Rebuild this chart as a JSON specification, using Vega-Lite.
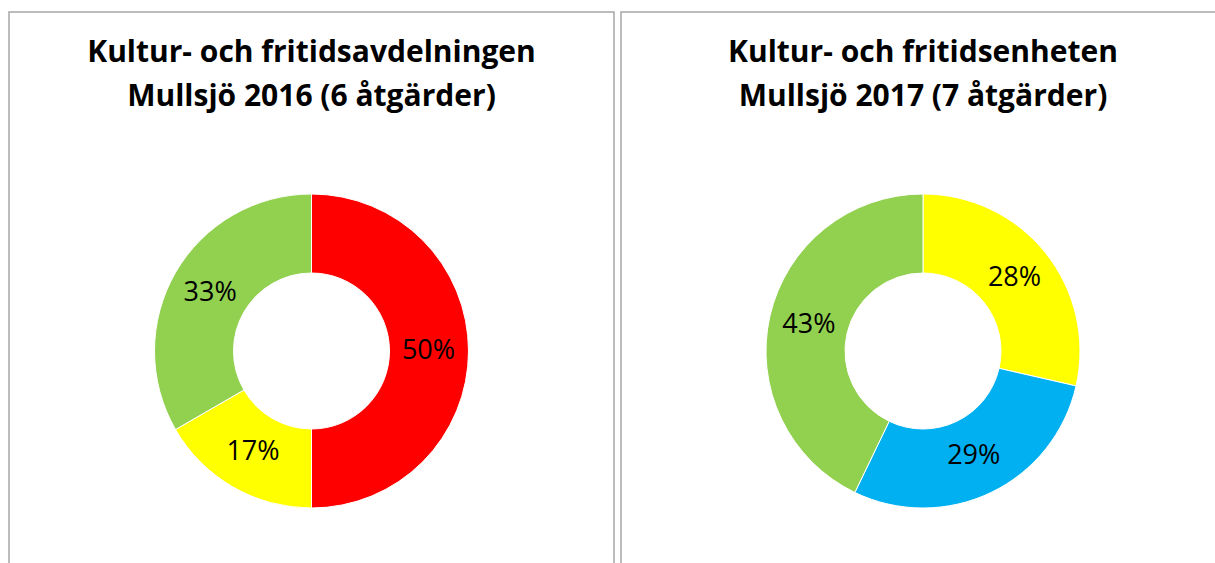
{
  "$schema": "https://vega.github.io/schema/vega-lite/v6.json",
  "padding": {"left": 8, "top": 11, "right": 0, "bottom": 0},
  "background": "white",
  "config": {
    "view": {"stroke": "#a6a6a6", "strokeWidth": 1.5},
    "title": {"font": "Open Sans", "fontSize": 30, "fontWeight": "bold", "color": "#000000", "anchor": "middle", "lineHeight": 44, "baseline": "top", "offset": 0, "dy": 104, "frame": "group"}
  },
  "datasets": {
    "pies": [
      {"panel": "2016", "status": "Röd", "value": 3, "label": "50%", "ord": 1},
      {"panel": "2016", "status": "Gul", "value": 1, "label": "17%", "ord": 2},
      {"panel": "2016", "status": "Grön", "value": 2, "label": "33%", "ord": 3},
      {"panel": "2017", "status": "Gul", "value": 2, "label": "28%", "ord": 1},
      {"panel": "2017", "status": "Blå", "value": 2, "label": "29%", "ord": 2},
      {"panel": "2017", "status": "Grön", "value": 3, "label": "43%", "ord": 3}
    ]
  },
  "spacing": 5,
  "hconcat": [
    {
      "width": 605,
      "height": 678,
      "view": {"stroke": "#a6a6a6", "strokeWidth": 1.5},
      "title": {"text": ["Kultur- och fritidsavdelningen", "Mullsjö 2016 (6 åtgärder)"]},
      "data": {"name": "pies"},
      "transform": [{"filter": "datum.panel === '2016'"}],
      "encoding": {
        "theta": {"field": "value", "type": "quantitative", "stack": true},
        "order": {"field": "ord", "type": "quantitative"}
      },
      "layer": [
        {
          "mark": {"type": "arc", "innerRadius": 78, "outerRadius": 157, "stroke": "white", "strokeWidth": 1},
          "encoding": {
            "color": {"field": "status", "type": "nominal", "legend": null,
              "scale": {"domain": ["Röd", "Gul", "Grön", "Blå"], "range": ["#ff0000", "#ffff00", "#92d050", "#00b0f0"]}}
          }
        },
        {
          "mark": {"type": "text", "radius": 117, "font": "Open Sans", "fontSize": 27, "color": "#000000", "align": "center", "baseline": "middle"},
          "encoding": {"text": {"field": "label", "type": "nominal"}}
        }
      ]
    },
    {
      "width": 604,
      "height": 678,
      "view": {"stroke": "#a6a6a6", "strokeWidth": 1.5},
      "title": {"text": ["Kultur- och fritidsenheten", "Mullsjö 2017 (7 åtgärder)"]},
      "data": {"name": "pies"},
      "transform": [{"filter": "datum.panel === '2017'"}],
      "encoding": {
        "theta": {"field": "value", "type": "quantitative", "stack": true},
        "order": {"field": "ord", "type": "quantitative"}
      },
      "layer": [
        {
          "mark": {"type": "arc", "innerRadius": 78, "outerRadius": 157, "stroke": "white", "strokeWidth": 1},
          "encoding": {
            "color": {"field": "status", "type": "nominal", "legend": null,
              "scale": {"domain": ["Röd", "Gul", "Grön", "Blå"], "range": ["#ff0000", "#ffff00", "#92d050", "#00b0f0"]}}
          }
        },
        {
          "mark": {"type": "text", "radius": 117, "font": "Open Sans", "fontSize": 27, "color": "#000000", "align": "center", "baseline": "middle"},
          "encoding": {"text": {"field": "label", "type": "nominal"}}
        }
      ]
    }
  ]
}
